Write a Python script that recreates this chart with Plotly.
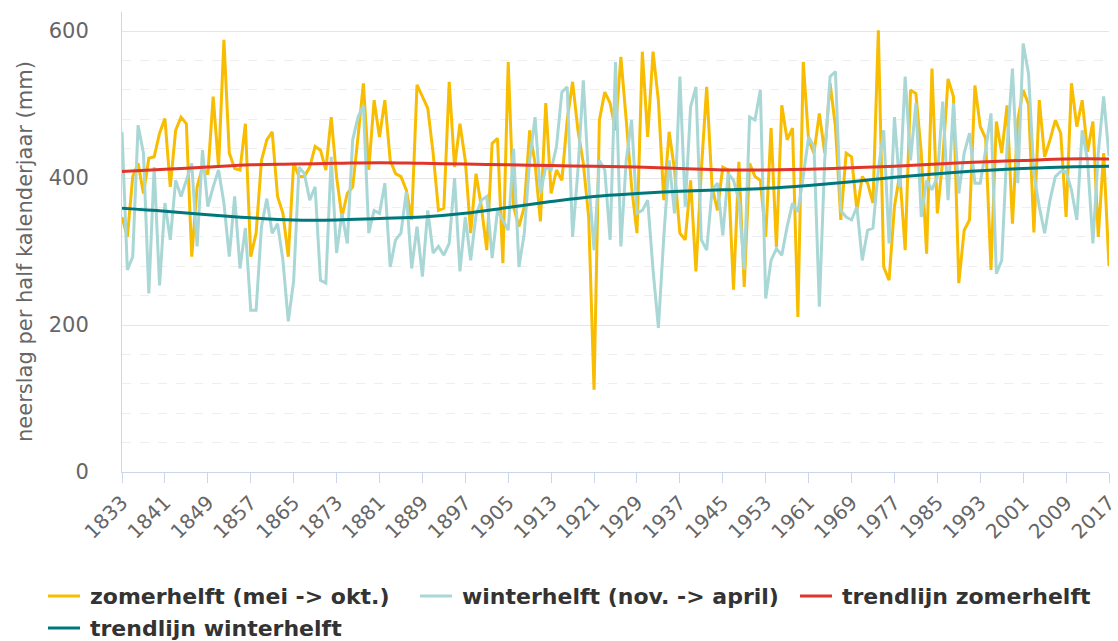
import plotly.graph_objects as go

years = list(range(1833, 2018))

zomerhelft = [
    347, 320, 402, 420, 379, 427, 429, 461,            # 1833-1840
    481, 388, 465, 483, 474, 293, 388, 415, 405, 511,  # 1841-1850
    415, 588, 434, 413, 411, 474, 293, 325, 424, 452,  # 1851-1860
    463, 375, 352, 293, 420, 402, 402, 415, 443, 438,  # 1861-1870
    411, 483, 402, 347, 379, 388, 456, 529, 411, 506,  # 1871-1880
    456, 506, 424, 406, 402, 384, 343, 527, 511, 495,  # 1881-1890
    434, 356, 359, 531, 415, 474, 424, 325, 406, 361,  # 1891-1900
    302, 447, 454, 284, 558, 361, 334, 361, 465, 420,  # 1901-1910
    341, 502, 379, 411, 397, 479, 531, 465, 420, 347,  # 1911-1920
    112, 479, 517, 502, 465, 565, 479, 388, 325, 572,  # 1921-1930
    456, 572, 505, 370, 463, 411, 325, 316, 397, 273,  # 1931-1940
    411, 524, 388, 356, 415, 411, 248, 422, 252, 420,  # 1941-1950
    402, 397, 320, 468, 306, 499, 452, 468, 211, 558,  # 1951-1960
    452, 434, 488, 434, 529, 470, 343, 434, 429, 356,  # 1961-1970
    402, 393, 366, 601, 279, 261, 361, 406, 302, 520,  # 1971-1980
    515, 434, 297, 549, 352, 424, 535, 511, 257, 329,  # 1981-1990
    343, 526, 470, 454, 275, 477, 434, 499, 338, 479,  # 1991-2000
    520, 500, 326, 506, 429, 452, 479, 461, 347, 529,  # 2001-2010
    470, 506, 436, 477, 320, 434, 280,                 # 2011-2017
]

winterhelft = [
    463, 275, 293, 472, 434, 243, 415, 254,            # 1833-1840
    366, 316, 397, 375, 397, 420, 307, 438, 361, 388,  # 1841-1850
    411, 366, 293, 375, 277, 332, 220, 220, 334, 372,  # 1851-1860
    325, 338, 288, 205, 260, 415, 406, 370, 388, 261,  # 1861-1870
    257, 429, 298, 352, 311, 452, 483, 499, 325, 356,  # 1871-1880
    352, 393, 279, 316, 325, 381, 277, 334, 266, 356,  # 1881-1890
    298, 307, 295, 311, 400, 273, 347, 288, 350, 370,  # 1891-1900
    375, 291, 356, 343, 329, 440, 279, 325, 424, 483,  # 1901-1910
    379, 415, 411, 443, 517, 524, 320, 411, 533, 397,  # 1911-1920
    302, 424, 411, 316, 558, 307, 424, 479, 352, 356,  # 1921-1930
    370, 275, 196, 320, 424, 352, 538, 361, 497, 524,  # 1931-1940
    316, 302, 384, 393, 322, 406, 397, 370, 275, 483,  # 1941-1950
    479, 520, 236, 288, 304, 295, 334, 366, 354, 402,  # 1951-1960
    456, 443, 225, 424, 538, 545, 356, 347, 343, 361,  # 1961-1970
    288, 329, 332, 411, 465, 311, 483, 388, 538, 424,  # 1971-1980
    502, 347, 397, 384, 402, 504, 370, 502, 379, 434,  # 1981-1990
    461, 393, 393, 438, 488, 270, 288, 443, 549, 393,  # 1991-2000
    583, 542, 406, 361, 325, 370, 402, 409, 409, 384,  # 2001-2010
    343, 465, 424, 311, 434, 511, 430,                 # 2011-2017
]

tick_years = list(range(1833, 2018, 8))

trend_zomer = [409, 412, 415, 418, 419, 420, 421, 420, 419, 418, 417, 416,
               415, 413, 411, 411, 412, 414, 416, 419, 422, 424, 426, 426]
trend_winter = [359, 355, 350, 346, 343, 343, 345, 347, 352, 360, 368, 375,
                379, 382, 384, 386, 390, 395, 401, 406, 410, 413, 415, 416]

assert len(zomerhelft) == len(years) == len(winterhelft)

names = ["zomerhelft (mei -> okt.)", "winterhelft (nov. -> april)",
         "trendlijn zomerhelft", "trendlijn winterhelft"]
colors = ["#F8BC00", "#A9D7D6", "#E0352B", "#00777B"]
y_title = "neerslag per half kalenderjaar (mm)"

W, H = 1118, 641
L, R, T, B = 122, 9, 12, 169
plot_w = W - L - R
plot_h = H - T - B


def px_x(px):
    return (px - L) / plot_w


def px_y(py):
    return (H - B - py) / plot_h


fig = go.Figure()
fig.add_trace(go.Scatter(x=years, y=zomerhelft, mode="lines", name=names[0],
                         line=dict(color=colors[0], width=3)))
fig.add_trace(go.Scatter(x=years, y=winterhelft, mode="lines", name=names[1],
                         line=dict(color=colors[1], width=3)))
fig.add_trace(go.Scatter(x=tick_years, y=trend_zomer, mode="lines", name=names[2],
                         line=dict(color=colors[2], width=3, shape="spline")))
fig.add_trace(go.Scatter(x=tick_years, y=trend_winter, mode="lines", name=names[3],
                         line=dict(color=colors[3], width=3, shape="spline")))

# y-axis title
fig.add_annotation(text=y_title, textangle=-90, showarrow=False,
                   xref="paper", yref="paper", x=px_x(25), y=px_y(252),
                   xanchor="center", yanchor="middle",
                   font=dict(family="DejaVu Sans", size=21, color="#666666"))

# legend (symbol line + bold label), laid out as in the reference
legend_slots = [(48, 596), (420, 596), (800, 596), (48, 628)]
for name, color, (sx, sy) in zip(names, colors, legend_slots):
    fig.add_shape(type="line", xref="paper", yref="paper",
                  x0=px_x(sx), x1=px_x(sx + 32), y0=px_y(sy), y1=px_y(sy),
                  line=dict(color=color, width=3))
    fig.add_annotation(text="<b>" + name + "</b>", showarrow=False,
                       xref="paper", yref="paper", x=px_x(sx + 40), y=px_y(sy),
                       xanchor="left", yanchor="middle",
                       font=dict(family="DejaVu Sans", size=22, color="#333333"))

fig.update_layout(
    width=W, height=H,
    margin=dict(l=L, r=R, t=T, b=B, autoexpand=False),
    paper_bgcolor="white", plot_bgcolor="white",
    font=dict(family="DejaVu Sans", color="#666666"),
    showlegend=False,
    xaxis=dict(range=[1833, 2017], tickmode="array", tickvals=tick_years,
               ticktext=[str(y) for y in tick_years], tickangle=-45,
               tickfont=dict(size=20, color="#666666"),
               ticks="outside", ticklen=10, tickcolor="#ccd6eb",
               showline=True, linecolor="#ccd6eb", linewidth=1,
               showgrid=False, zeroline=False, automargin=False,
               ticklabeloverflow="allow"),
    yaxis=dict(range=[0, 626], tickmode="array", tickvals=[0, 200, 400, 600],
               tickfont=dict(size=21, color="#666666"),
               showgrid=True, gridcolor="#e6e6e6", gridwidth=1,
               minor=dict(dtick=40, tick0=0, showgrid=True, griddash="dash",
                          gridcolor="#eeeeee", gridwidth=1),
               showline=True, linecolor="#ccd6eb", linewidth=1,
               zeroline=False, ticks="", ticklabelstandoff=28, automargin=False),
)

fig.write_html("out.html", config={"displayModeBar": False},
               post_script="document.body.style.margin='0';")
